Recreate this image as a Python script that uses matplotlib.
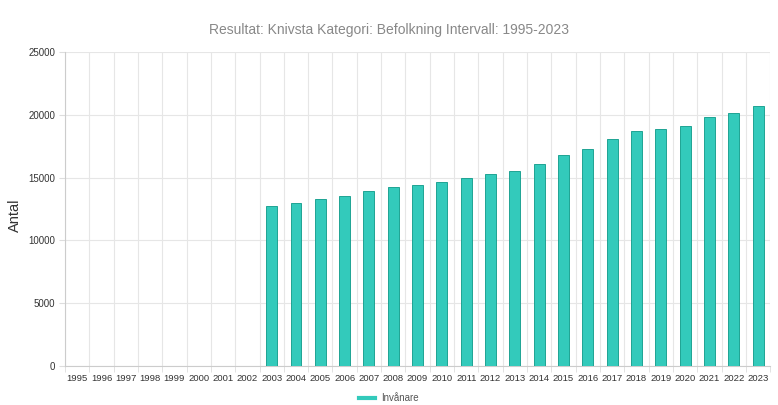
import matplotlib
matplotlib.use("Agg")
import matplotlib.pyplot as plt
import numpy as np

years = [str(y) for y in range(1995, 2024)]
values = [0, 0, 0, 0, 0, 0, 0, 0,
          12760, 13000, 13270, 13540, 13930, 14250, 14440, 14680, 14940, 15260, 15530,
          16060, 16830, 17280, 18050, 18710, 18840, 19110, 19820, 20140, 20720]
series_name = "Invånare"
title = "Resultat: Knivsta Kategori: Befolkning Intervall: 1995-2023"
ylabel = "Antal"

plt.rcParams['font.family'] = ['Liberation Sans', 'DejaVu Sans']

fig = plt.figure(figsize=(7.78, 4.05), dpi=100)
ax = fig.add_axes([0.0835, 0.0963, 0.9065, 0.7753])

x = np.arange(len(years))
ax.bar(x, values, width=0.45, color='#33cabb', edgecolor='#1fa393', linewidth=0.7, zorder=3,
       label=series_name)

ax.set_xlim(-0.5, len(years) - 0.5)
ax.set_ylim(0, 25000)
ax.set_yticks(range(0, 25001, 5000))
ax.set_xticks(x)
ax.set_xticklabels(years, fontsize=6.8, color='#333333')
ax.set_xticks(np.arange(-0.5, len(years), 1), minor=True)
ax.tick_params(axis='x', which='major', length=0, pad=6)
ax.tick_params(axis='x', which='minor', length=4, color='#dddddd')
ax.tick_params(axis='y', labelsize=7, colors='#333333', length=4, pad=3)
ax.tick_params(axis='y', color='#dddddd')
ax.grid(True, which='minor', axis='x', color='#e6e6e6', linewidth=0.8, zorder=0)
ax.grid(True, which='major', axis='y', color='#e6e6e6', linewidth=0.8, zorder=0)
ax.grid(False, which='major', axis='x')
for s in ['top', 'right']:
    ax.spines[s].set_visible(False)
ax.spines['left'].set_color('#cccccc')
ax.spines['bottom'].set_color('#cccccc')

ax.set_ylabel(ylabel, fontsize=10.5, color='#333333')
ax.yaxis.set_label_coords(-0.061, 0.48)
fig.text(0.5, 0.925, title, ha='center', va='center', fontsize=10, color='#888888')

leg = fig.legend(handles=[plt.Line2D([0], [0], color='#33cabb', linewidth=3)],
                 labels=[series_name], loc='center', bbox_to_anchor=(0.5, 0.017),
                 frameon=False, fontsize=7, handlelength=1.6, handletextpad=0.6)
for t in leg.get_texts():
    t.set_color('#555555')

fig.savefig("out.png", dpi=100)
